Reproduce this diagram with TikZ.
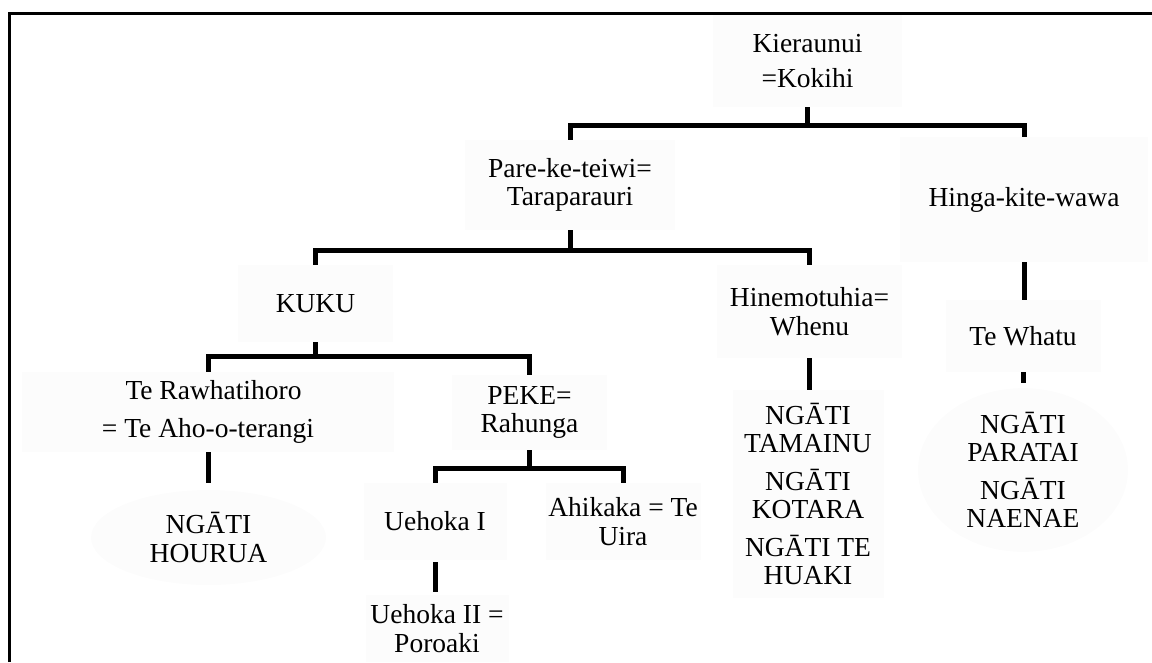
\documentclass[tikz,border=0pt]{standalone}
\usepackage{fontspec}
\setmainfont{Liberation Serif}
\usetikzlibrary{shapes.geometric}
\begin{document}
\begin{tikzpicture}[x=1pt,y=-1pt,
  every node/.style={font=\fontsize{27.5}{28.5}\selectfont, align=center, inner sep=0pt},
  box/.style={rectangle, fill=black!1},
  oval/.style={ellipse, fill=black!1},
  link/.style={line width=5pt, line join=miter},
  frame/.style={line width=3pt, line join=miter}]
\useasboundingbox (0,0) rectangle (1152,662);

% outer frame (top and left edges)
\draw[frame] (9,662) -- (9,13.5) -- (1152,13.5);

% people and descent groups
\node[box, minimum width=189, minimum height=92] (kie) at (807.5,61) {Kieraunui\\[6pt]=Kokihi};
\node[box, minimum width=210, minimum height=90] (pare) at (570,185) {Pare-ke-teiwi=\\Taraparauri};
\node[box, minimum width=248, minimum height=125] (hinga) at (1024,199.5) {Hinga-kite-wawa};
\node[box, minimum width=155, minimum height=77] (kuku) at (315.5,303.5) {KUKU};
\node[box, minimum width=185, minimum height=93] (hine) at (809.5,311.5) {Hinemotuhia=\\Whenu};
\node[box, minimum width=155, minimum height=72] (whatu) at (1023,336) {Te Whatu};
\node[box, minimum width=372, minimum height=80] (rawha) at (208,412)
  {\hspace*{57pt}\makebox[222pt][l]{Te Rawhatihoro}\\[9pt]= Te Aho-o-terangi};
\node[box, minimum width=155, minimum height=75] (peke) at (529.5,412.5) {PEKE=\\Rahunga};
\node[box, minimum width=151, minimum height=208] (tam) at (808,494)
  {NGĀTI\\TAMAINU\\[9pt]NGĀTI\\KOTARA\\[9pt]NGĀTI TE\\HUAKI};
\node[oval, minimum width=210, minimum height=127] (para) at (1023,470)
  {NGĀTI\\PARATAI\\[9pt]NGĀTI\\NAENAE};
\node[oval, minimum width=235, minimum height=95] (hou) at (208.5,537.5) {NGĀTI\\HOURUA};
\node[box, minimum width=143, minimum height=77] (ue1) at (435,521.5) {Uehoka I};
\node[box, minimum width=155, minimum height=77] (ahi) at (623,521.5) {Ahikaka = Te\\Uira};
\node[box, minimum width=143, minimum height=67] (ue2) at (437,628.5) {Uehoka II =\\Poroaki};

% junction points of the family bars
\coordinate (j1) at (kie.south |- 0,125);
\coordinate (j2) at (pare.south |- 0,250);
\coordinate (j3) at (kuku.south |- 0,356);
\coordinate (j4) at (peke.south |- 0,468);

% branching lines
\draw[link] (kie.south) -- (j1);
\draw[link] (pare.north) |- (j1) -| (hinga.north);
\draw[link] (pare.south) -- (j2);
\draw[link] (kuku.north) |- (j2) -| (hine.north);
\draw[link] (kuku.south) -- (j3);
\draw[link] (rawha.north) |- (j3) -| (peke.north);
\draw[link] (peke.south) -- (j4);
\draw[link] (ue1.north) |- (j4) -| (ahi.north);

% single lines of descent
\draw[link] (hinga.south) -- (hinga.south |- whatu.north);
\draw[link, shorten >=5pt] (whatu.south) -- (whatu.south |- para.north);
\draw[link] (hine.south) -- (hine.south |- tam.north);
\draw[link, shorten >=7pt] (rawha.south) -- (rawha.south |- hou.north);
\draw[link, shorten <=2pt, shorten >=3pt] (ue1.south) -- (ue1.south |- ue2.north);
\end{tikzpicture}
\end{document}
